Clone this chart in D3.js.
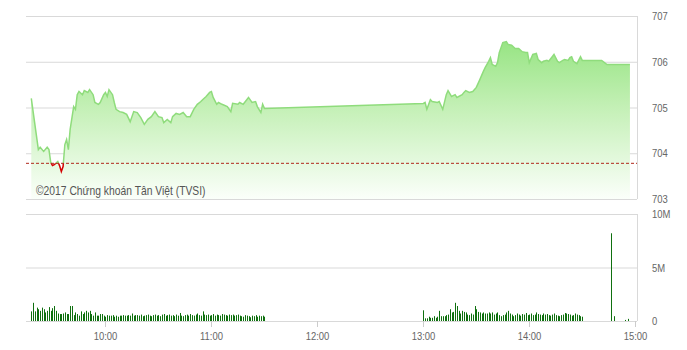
<!DOCTYPE html>
<html lang="vi">
<head>
<meta charset="UTF-8">
<script src="https://cdn.jsdelivr.net/npm/d3@7"></script>
<style>
  html, body { margin: 0; padding: 0; background: #fff; }
  svg { display: block; font-family: "Liberation Sans", Arial, sans-serif; }
</style>
</head>
<body>
<svg id="chart" width="687" height="350"></svg>
<script>
// ---- data ----
let refPrice = 703.78;

let priceTimes = ['09:18','09:22','09:23','09:25','09:27','09:28','09:29','09:30','09:31','09:33','09:34','09:35','09:36','09:37','09:38','09:39','09:40','09:42','09:43','09:44','09:45','09:47','09:48','09:50','09:51','09:53','09:54','09:56','09:57','09:59',
  '10:00','10:01','10:02','10:04','10:05','10:06','10:08','10:10','10:12','10:14','10:16','10:18','10:20','10:22','10:24','10:26','10:28','10:30','10:32','10:33','10:35','10:37','10:38','10:40','10:42','10:44','10:46','10:48','10:50','10:52','10:54','10:55','10:57','10:59',
  '11:00','11:01','11:03','11:04','11:06','11:09','11:11','11:12','11:15','11:16','11:18','11:21','11:23','11:25','11:26','11:28','11:29','11:30',
  '13:00','13:01','13:02','13:04','13:05','13:08','13:09','13:11','13:13','13:14','13:16','13:18','13:19','13:22','13:23','13:24','13:26','13:28','13:30','13:32','13:34','13:35','13:37','13:38','13:39','13:41','13:42','13:43','13:45','13:47','13:48','13:50','13:52','13:54','13:56','13:58','13:59',
  '14:00','14:02','14:04','14:05','14:07','14:08','14:10','14:11','14:13','14:14','14:16','14:17','14:19','14:20','14:22','14:23','14:24','14:25','14:27','14:29','14:30','14:41','14:44','14:57'];

let priceValues = [705.20,704.08,704.13,704.04,704.13,704.08,703.80,703.73,703.75,703.82,703.73,703.60,703.71,704.19,704.30,704.08,704.52,705.02,704.96,705.28,705.35,705.28,705.37,705.33,705.39,705.28,705.11,705.07,705.11,705.28,
  705.33,705.24,705.39,705.28,705.11,704.96,704.91,704.89,704.85,704.69,704.91,704.89,704.78,704.63,704.74,704.80,704.91,704.80,704.78,704.67,704.74,704.67,704.80,704.87,704.85,704.89,704.80,704.80,704.96,705.07,705.13,705.17,705.24,705.33,
  705.35,705.22,705.07,705.11,705.07,705.02,704.91,705.09,705.07,705.11,705.07,705.22,705.11,705.13,705.02,704.89,705.07,704.98,
  705.09,705.11,704.96,705.17,705.13,705.11,705.13,704.96,705.28,705.37,705.24,705.28,705.22,705.28,705.33,705.37,705.33,705.35,705.44,705.61,705.79,705.87,706.01,706.09,705.94,705.90,705.98,706.20,706.42,706.44,706.38,706.36,706.29,706.29,706.22,706.20,706.20,
  705.98,706.16,706.18,706.05,705.98,706.01,706.03,706.01,706.11,706.16,706.01,705.98,706.03,706.05,706.03,706.09,706.11,706.01,705.96,706.11,706.03,706.03,705.94,705.94];

// volume in millions, one bar per minute
let volMorningStart = '09:18';
let volMorning = [0.9,1.7,0.9,1.25,1.1,0.95,1.25,1.1,0.8,0.95,1.3,0.95,1.2,1.4,0.95,0.7,0.65,0.65,0.7,0.8,
  0.65,0.65,1.4,1.4,0.55,0.8,0.65,0.5,0.9,0.65,0.8,0.95,0.8,0.95,0.65,0.5,0.8,0.5,0.5,0.65,
  0.65,0.5,0.4,0.55,0.5,0.5,0.55,0.4,0.5,0.4,0.5,0.5,0.55,0.5,0.5,0.55,0.5,0.7,0.5,0.55,
  0.55,0.5,0.6,0.45,0.5,0.55,0.6,0.5,0.45,0.55,0.6,0.5,0.55,0.45,0.6,0.65,0.5,0.55,0.6,0.5,
  0.55,0.45,0.6,0.5,0.75,0.5,0.45,0.55,0.6,0.5,0.65,0.55,0.5,0.6,0.7,0.55,0.5,0.9,0.6,0.55,
  0.6,0.5,0.55,0.65,0.5,0.6,0.55,0.5,0.65,0.6,0.55,0.5,0.6,0.55,0.6,0.5,0.55,0.6,0.5,0.45,
  0.4,0.55,0.5,0.45,0.35,0.5,0.45,0.55,0.4,0.5,0.45,0.5,0.4];

let volAfternoonStart = '13:00';
let volAfternoon = [1.0,0.25,0.25,0.4,0.3,0.3,0.45,0.3,0.4,0.95,
  0.45,0.45,0.45,0.55,0.6,1.1,0.8,0.85,1.7,1.4,
  0.95,0.7,0.95,0.85,0.8,0.6,0.55,0.7,0.6,1.4,
  1.1,0.85,0.8,0.7,0.8,0.7,0.7,0.8,0.7,0.8,
  0.6,0.7,0.8,0.55,0.45,0.55,0.6,0.8,0.95,0.7,
  0.6,0.45,0.55,0.7,0.6,0.5,0.65,0.6,0.75,0.55,
  0.6,0.7,0.55,0.6,0.8,0.65,0.6,0.55,0.7,0.6,
  0.65,0.55,0.5,0.6,0.7,0.55,0.5,0.45,0.55,0.6,
  0.75,0.7,0.65,0.6,0.5,0.55,0.7,0.6,0.55,0.45,0.4];

let volCloseTimes = ['14:46','14:48','14:54','14:56'];
let volCloseValues = [8.2, 0.45, 0.1, 0.2];

let priceTicks = [703, 704, 705, 706, 707];
let volTicks = [0, 5, 10];
let volTickLabels = ['0', '5M', '10M'];
let timeTicks = ['10:00','11:00','12:00','13:00','14:00','15:00'];

// ---- helpers ----
let parseT = d3.timeParse('%H:%M');
function addMin(s, n) { return d3.timeMinute.offset(parseT(s), n); }

let prices = priceTimes.map((t, i) => ({ t: parseT(t), v: priceValues[i] }));
let vols = volMorning.map((v, i) => ({ t: addMin(volMorningStart, i), v: v }))
  .concat(volAfternoon.map((v, i) => ({ t: addMin(volAfternoonStart, i), v: v })))
  .concat(volCloseTimes.map((t, i) => ({ t: parseT(t), v: volCloseValues[i] })));

// ---- layout ----
let left = 26, right = 637;
let pTop = 16, pBottom = 199;
let vTop = 214, vBottom = 321;
let squeeze = 0.86; // the source text is a little narrow

let svg = d3.select('#chart');

let x = d3.scaleTime().domain([parseT('09:15'), parseT('15:01')]).range([left, right]);
let y = d3.scaleLinear().domain([703, 707]).range([pBottom, pTop]);
let yv = d3.scaleLinear().domain([0, 10]).range([vBottom, vTop]);

let grid = '#d9d9d9';
let textCol = '#666';

// gradient for the area
let defs = svg.append('defs');
let grad = defs.append('linearGradient').attr('id', 'areaGrad')
  .attr('gradientUnits', 'userSpaceOnUse')
  .attr('x1', 0).attr('x2', 0).attr('y1', pTop).attr('y2', pBottom);
grad.append('stop').attr('offset', '0').attr('stop-color', '#86e070');
grad.append('stop').attr('offset', '0.5').attr('stop-color', '#c4f0b6');
grad.append('stop').attr('offset', '1').attr('stop-color', '#fbfffa');

defs.append('clipPath').attr('id', 'above')
  .append('rect').attr('x', 0).attr('y', 0).attr('width', 687).attr('height', y(refPrice));
defs.append('clipPath').attr('id', 'below')
  .append('rect').attr('x', 0).attr('y', y(refPrice)).attr('width', 687).attr('height', 350);

// ---- price panel ----
svg.append('g').selectAll('line')
  .data(priceTicks)
  .join('line')
  .attr('x1', left).attr('x2', right)
  .attr('y1', d => y(d) + 0.5).attr('y2', d => y(d) + 0.5)
  .attr('stroke', grid);

svg.append('line')
  .attr('x1', right + 0.5).attr('x2', right + 0.5)
  .attr('y1', pTop).attr('y2', pBottom)
  .attr('stroke', grid);

let area = d3.area().x(d => x(d.t)).y0(pBottom).y1(d => y(d.v));
let line = d3.line().x(d => x(d.t)).y(d => y(d.v));

svg.append('path').datum(prices)
  .attr('d', area)
  .attr('fill', 'url(#areaGrad)');

svg.append('path').datum(prices)
  .attr('d', line)
  .attr('fill', 'none')
  .attr('stroke', '#8fdc7c')
  .attr('stroke-width', 1.5)
  .attr('clip-path', 'url(#above)');

svg.append('path').datum(prices)
  .attr('d', line)
  .attr('fill', 'none')
  .attr('stroke', '#d40000')
  .attr('stroke-width', 1.5)
  .attr('clip-path', 'url(#below)');

svg.append('line')
  .attr('x1', left).attr('x2', right)
  .attr('y1', y(refPrice)).attr('y2', y(refPrice))
  .attr('stroke', '#b0281c')
  .attr('stroke-width', 1)
  .attr('stroke-dasharray', '3,2');

svg.append('text')
  .attr('transform', `translate(36,195) scale(${squeeze},1)`)
  .attr('font-size', 12)
  .attr('fill', '#555')
  .text('©2017 Chứng khoán Tân Việt (TVSI)');

svg.append('g').selectAll('text')
  .data(priceTicks)
  .join('text')
  .attr('transform', d => `translate(652,${y(d) + 4}) scale(${squeeze},1)`)
  .attr('font-size', 11)
  .attr('fill', textCol)
  .text(d => d);

// ---- volume panel ----
svg.append('g').selectAll('line')
  .data(volTicks)
  .join('line')
  .attr('x1', left).attr('x2', right)
  .attr('y1', d => yv(d) + 0.5).attr('y2', d => yv(d) + 0.5)
  .attr('stroke', grid);

svg.append('line')
  .attr('x1', right + 0.5).attr('x2', right + 0.5)
  .attr('y1', vTop).attr('y2', vBottom)
  .attr('stroke', grid);

svg.append('g').selectAll('rect')
  .data(vols)
  .join('rect')
  .attr('x', d => Math.round(x(d.t)))
  .attr('width', 1)
  .attr('y', d => yv(d.v))
  .attr('height', d => vBottom - yv(d.v))
  .attr('fill', '#0f700f');

svg.append('g').selectAll('text')
  .data(volTicks)
  .join('text')
  .attr('transform', d => `translate(652,${yv(d) + 4}) scale(${squeeze},1)`)
  .attr('font-size', 11)
  .attr('fill', textCol)
  .text((d, i) => volTickLabels[i]);

// time axis
let tg = svg.append('g').selectAll('g')
  .data(timeTicks)
  .join('g')
  .attr('transform', d => `translate(${Math.round(x(parseT(d))) + 0.5},${vBottom})`);
tg.append('line').attr('y1', 0).attr('y2', 6).attr('stroke', '#ccc');
tg.append('text')
  .attr('transform', `translate(0,19) scale(${squeeze},1)`)
  .attr('text-anchor', 'middle')
  .attr('font-size', 11)
  .attr('fill', textCol)
  .text(d => d);
</script>
</body>
</html>
